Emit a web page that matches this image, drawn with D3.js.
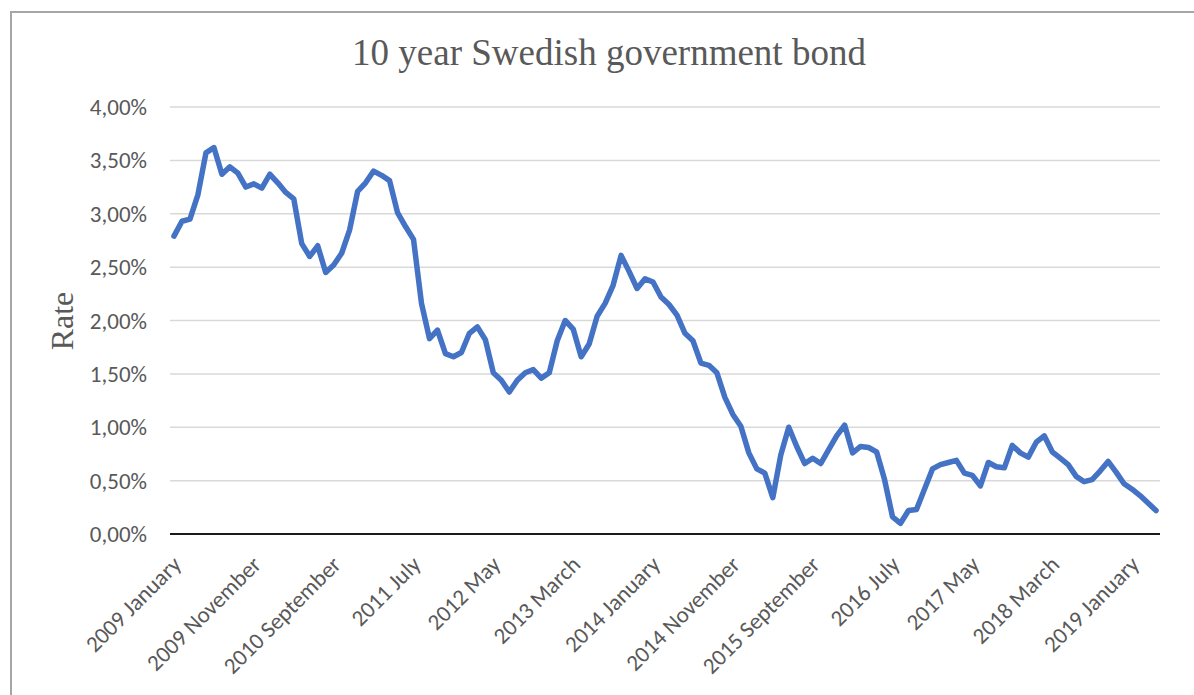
<!DOCTYPE html>
<html>
<head>
<meta charset="utf-8">
<script src="https://cdnjs.cloudflare.com/ajax/libs/d3/7.8.5/d3.min.js"></script>
<style>
  body { margin: 0; background: #ffffff; }
</style>
</head>
<body>
<script>
// Data
var startYear = 2009;
var monthNames = ["January", "February", "March", "April", "May", "June", "July",
	"August", "September", "October", "November", "December"];

// monthly 10y yield, percent, 2009 January .. 2019 April
var rates = [
	2.79, 2.93, 2.95, 3.18, 3.57, 3.62, 3.37, 3.44, 3.38, 3.25, 3.28, 3.24,
	3.37, 3.29, 3.20, 3.14, 2.72, 2.60, 2.70, 2.45, 2.52, 2.63, 2.85, 3.21,
	3.29, 3.40, 3.36, 3.31, 3.01, 2.88, 2.76, 2.16, 1.83, 1.91, 1.69, 1.66,
	1.70, 1.88, 1.94, 1.82, 1.51, 1.44, 1.33, 1.44, 1.51, 1.54, 1.46, 1.51,
	1.81, 2.00, 1.92, 1.66, 1.78, 2.04, 2.16, 2.33, 2.61, 2.46, 2.30, 2.39,
	2.36, 2.22, 2.15, 2.05, 1.88, 1.81, 1.60, 1.58, 1.51, 1.28, 1.12, 1.01,
	0.76, 0.61, 0.57, 0.34, 0.74, 1.00, 0.82, 0.66, 0.71, 0.66, 0.79, 0.92,
	1.02, 0.76, 0.82, 0.81, 0.77, 0.51, 0.16, 0.10, 0.22, 0.23, 0.42, 0.61,
	0.65, 0.67, 0.69, 0.57, 0.55, 0.45, 0.67, 0.63, 0.62, 0.83, 0.76, 0.72,
	0.86, 0.92, 0.77, 0.71, 0.65, 0.54, 0.49, 0.51, 0.59, 0.68, 0.58, 0.47,
	0.42, 0.36, 0.29, 0.22
];

var xTickLabels = ["2009 January", "2009 November", "2010 September", "2011 July",
	"2012 May", "2013 March", "2014 January", "2014 November", "2015 September",
	"2016 July", "2017 May", "2018 March", "2019 January"];
var yTicks = [0, 0.5, 1, 1.5, 2, 2.5, 3, 3.5, 4];

var titleText = "10 year Swedish government bond";
var yTitleText = "Rate";

// category names, one per month
var categories = rates.map(function(d, i) {
	return (startYear + Math.floor(i / 12)) + " " + monthNames[i % 12];
});

// Layout
var width = 1194;
var height = 695;
var plotLeft = 170, plotRight = 1160, plotTop = 107, plotBottom = 534;

var textColor = "#595959";
var gridColor = "#d9d9d9";
var lineColor = "#4472c4";
var labelFont = "Carlito, Calibri, Lato, sans-serif";
var serifFont = "'Liberation Serif', 'Times New Roman', serif";

var svg = d3.select("body")
	.append("svg")
	.attr("width", width)
	.attr("height", height);

// chart border (runs off the right and bottom edges)
svg.append("rect")
	.attr("x", 11)
	.attr("y", 12)
	.attr("width", width)
	.attr("height", height)
	.attr("fill", "none")
	.attr("stroke", "#a6a6a6")
	.attr("stroke-width", 2);

var x = d3.scaleBand()
	.domain(categories)
	.range([plotLeft, plotRight]);

var y = d3.scaleLinear()
	.domain([0, 4])
	.range([plotBottom, plotTop]);

function cx(c) { return x(c) + x.bandwidth() / 2; }

function fmtPct(v) {
	return d3.format(".2f")(v).replace(".", ",") + "%";
}

// gridlines + y labels
var yAxis = svg.append("g");
yAxis.selectAll("line.grid")
	.data(yTicks.filter(function(d) { return d > 0; }))
	.enter()
	.append("line")
	.attr("class", "grid")
	.attr("x1", plotLeft)
	.attr("x2", plotRight)
	.attr("y1", function(d) { return y(d); })
	.attr("y2", function(d) { return y(d); })
	.attr("stroke", gridColor)
	.attr("stroke-width", 1.5);

yAxis.selectAll("text")
	.data(yTicks)
	.enter()
	.append("text")
	.attr("x", 147)
	.attr("y", function(d) { return y(d); })
	.attr("dy", "0.35em")
	.attr("text-anchor", "end")
	.attr("font-family", labelFont)
	.attr("font-size", "23px")
	.attr("fill", textColor)
	.text(fmtPct);

// the line
var line = d3.line()
	.x(function(d, i) { return cx(categories[i]); })
	.y(function(d) { return y(d); });

svg.append("path")
	.datum(rates)
	.attr("d", line)
	.attr("fill", "none")
	.attr("stroke", lineColor)
	.attr("stroke-width", 5.5)
	.attr("stroke-linejoin", "round")
	.attr("stroke-linecap", "round");

// x axis line
svg.append("line")
	.attr("x1", plotLeft)
	.attr("x2", plotRight)
	.attr("y1", y(0))
	.attr("y2", y(0))
	.attr("stroke", "#1a1a1a")
	.attr("stroke-width", 2);

// rotated category labels
svg.append("g")
	.selectAll("text")
	.data(xTickLabels)
	.enter()
	.append("text")
	.attr("transform", function(d) {
		return "translate(" + (cx(d) + 8.5) + "," + (plotBottom + 32) + ") rotate(-45)";
	})
	.attr("text-anchor", "end")
	.attr("font-family", labelFont)
	.attr("font-size", "23px")
	.attr("fill", textColor)
	.text(function(d) { return d; });

// titles
svg.append("text")
	.attr("x", 609)
	.attr("y", 65)
	.attr("text-anchor", "middle")
	.attr("font-family", serifFont)
	.attr("font-size", "37px")
	.attr("fill", textColor)
	.text(titleText);

svg.append("text")
	.attr("transform", "translate(73,321) rotate(-90)")
	.attr("text-anchor", "middle")
	.attr("font-family", serifFont)
	.attr("font-size", "32px")
	.attr("fill", textColor)
	.text(yTitleText);
</script>
</body>
</html>
